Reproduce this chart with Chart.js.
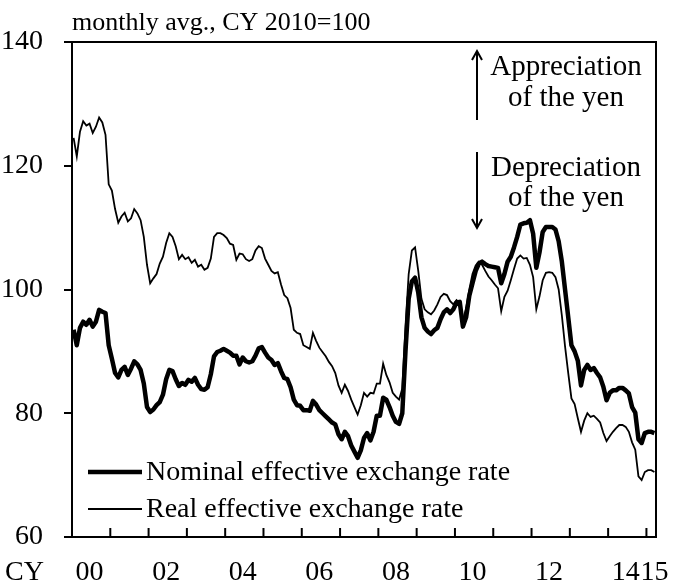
<!DOCTYPE html>
<html>
<head>
<meta charset="utf-8">
<script src="https://cdn.jsdelivr.net/npm/chart.js@4.4.1/dist/chart.umd.min.js"></script>
<style>
  body { margin: 0; background: #fff; }
  canvas { display: block; }
</style>
</head>
<body>
<canvas id="myChart" width="690" height="585"></canvas>
<script>
// monthly, Jan 2000 - Mar 2015 (CY 2010 = 100), one row per year
let nominal = [
  93.5, 91.0, 93.8, 94.8, 94.3, 95.1, 94.0, 94.8, 96.7, 96.4, 96.2, 91.0,
  88.8, 86.5, 85.8, 87.0, 87.5, 86.2, 87.2, 88.4, 87.9, 87.0, 84.8, 81.0,
  80.2, 80.6, 81.3, 81.8, 83.0, 85.5, 87.0, 86.8, 85.5, 84.4, 84.9, 84.6,
  85.4, 85.1, 85.7, 84.6, 83.9, 83.8, 84.2, 86.3, 89.2, 89.9, 90.1, 90.4,
  90.1, 89.8, 89.3, 89.3, 87.9, 89.0, 88.4, 88.2, 88.4, 89.3, 90.5, 90.7,
  89.8, 89.0, 88.6, 87.8, 88.1, 86.8, 85.7, 85.5, 84.2, 82.2, 81.3, 81.2,
  80.5, 80.5, 80.4, 82.0, 81.4, 80.5, 80.0, 79.5, 79.0, 78.5, 78.2, 76.6,
  75.8, 77.0, 76.3, 74.8, 73.8, 72.8, 74.0, 76.0, 76.8, 75.6, 77.0, 79.6,
  79.6, 82.5, 82.2, 81.0, 79.6, 78.6, 78.3, 80.0, 90.0, 98.5, 101.3, 101.9,
  99.5, 95.5, 93.8, 93.2, 92.8, 93.4, 93.8, 95.2, 96.3, 96.8, 96.2, 96.8,
  97.9, 98.0, 94.0, 95.5, 99.0, 101.0, 103.0, 104.2, 104.5, 104.1, 103.8, 103.7,
  103.6, 103.5, 101.0, 102.5, 104.5, 105.3, 106.8, 108.5, 110.5, 110.7, 110.8, 111.2,
  109.0, 103.5, 106.0, 109.3, 110.1, 110.1, 110.1, 109.7, 107.8, 104.5, 100.0, 95.5,
  91.0, 90.0, 88.5, 84.5, 87.0, 87.8, 87.0, 87.3, 86.5, 85.8, 84.3, 82.1,
  83.3, 83.7, 83.7, 84.1, 84.1, 83.7, 83.2, 81.0, 80.1, 75.8, 75.2, 76.8,
  77.0, 77.0, 76.8
]

let real = [
  124.5, 121.5, 125.5, 127.2, 126.5, 126.8, 125.3, 126.3, 127.8, 127.0, 125.0, 117.0,
  116.0, 113.0, 110.8, 111.8, 112.4, 111.0, 111.5, 113.0, 112.3, 111.2, 108.5, 104.0,
  101.0, 101.8, 102.5, 104.2, 105.3, 107.5, 109.1, 108.5, 107.0, 104.9, 105.6, 104.9,
  105.2, 104.3, 104.8, 103.7, 104.0, 103.2, 103.5, 105.0, 108.5, 109.1, 109.1, 108.8,
  108.3, 107.4, 107.2, 104.8, 105.8, 105.7, 104.9, 104.6, 104.9, 106.3, 107.0, 106.7,
  105.0, 104.0, 103.0, 102.6, 102.8, 100.8, 99.1, 98.6, 97.0, 93.5, 93.0, 92.8,
  91.0, 90.7, 90.4, 93.0, 91.7, 90.6, 89.9, 89.2, 88.3, 87.6, 86.5, 84.5,
  83.3, 84.6, 83.6, 82.2, 81.0, 79.8, 81.3, 83.3, 82.7, 83.3, 83.2, 84.8,
  84.8, 88.0, 86.2, 85.0, 83.3, 82.7, 82.2, 84.0, 94.0, 102.5, 106.3, 106.8,
  103.0, 98.5, 96.8, 96.3, 96.0, 96.6, 97.6, 98.8, 99.3, 99.1, 98.1, 97.6,
  98.3, 97.8, 95.0, 97.0, 100.0, 102.5, 103.9, 104.5, 104.0, 103.0, 102.1, 101.5,
  100.8, 100.2, 96.5, 98.8, 99.8, 101.5, 103.3, 105.0, 105.5, 105.0, 105.1, 104.0,
  102.0, 96.8, 98.9, 101.5, 102.7, 102.8, 102.7, 102.0, 100.0, 95.8, 90.8, 86.5,
  82.4, 81.5, 79.2, 77.0, 78.8, 80.0, 79.4, 79.6, 79.1, 78.5, 76.8, 75.5,
  76.3, 77.0, 77.6, 78.1, 78.1, 77.8, 77.0, 75.3, 74.1, 69.8, 69.2, 70.5,
  70.8, 70.8, 70.5
]

let seriesNames = ["Nominal effective exchange rate", "Real effective exchange rate"]
let firstYear = 2000
let labelYears = [2000, 2002, 2004, 2006, 2008, 2010, 2012, 2014, 2015]
let yTicks = [60, 80, 100, 120, 140]
let titleText = "monthly avg., CY 2010=100"
let upText = ["Appreciation", "of the yen"]
let downText = ["Depreciation", "of the yen"]

let serif = "'Liberation Serif', 'Times New Roman', serif"

// month labels 2000-01 ... 2015-03
let months = []
for (let i = 0; i < nominal.length; i++) {
    let y = firstYear + Math.floor(i / 12)
    let m = (i % 12) + 1
    months.push(y + '-' + (m < 10 ? '0' : '') + m)
}

function yearLabelAt(index) {
    for (let y of labelYears) {
        let at = Math.min((y - firstYear) * 12 + 5, months.length - 1)
        if (at === index) return String(y).slice(2)
    }
    return ''
}

function drawArrow(c, x, y1, y2) {
    // y1 = tail, y2 = tip
    let dir = y2 < y1 ? 1 : -1
    c.beginPath()
    c.moveTo(x, y1)
    c.lineTo(x, y2)
    c.moveTo(x - 5, y2 + dir * 9)
    c.lineTo(x, y2)
    c.lineTo(x + 5, y2 + dir * 9)
    c.stroke()
}

let extras = {
    id: 'extras',
    afterDraw(chart) {
        let c = chart.ctx
        let area = chart.chartArea
        let xs = chart.scales.x
        c.save()
        c.strokeStyle = '#000'
        c.fillStyle = '#000'

        // frame
        c.lineWidth = 2
        c.strokeRect(area.left, area.top, area.right - area.left, area.bottom - area.top)

        // year tick marks, pointing inward
        for (let k = 12; k < months.length; k += 12) {
            let px = (xs.getPixelForValue(k - 1) + xs.getPixelForValue(k)) / 2
            c.beginPath()
            c.moveTo(px, area.bottom)
            c.lineTo(px, area.bottom - 9)
            c.stroke()
        }

        // title and CY
        c.font = "26px " + serif
        c.textAlign = 'left'
        c.textBaseline = 'alphabetic'
        c.fillText(titleText, area.left, 30)
        c.font = "28px " + serif
        c.fillText("CY", 5, 580)

        // legend inside the plot
        let lx = 88, ly = [472, 509]
        chart.data.datasets.forEach((ds, i) => {
            c.lineWidth = ds.borderWidth
            c.beginPath()
            c.moveTo(lx, ly[i])
            c.lineTo(lx + 54, ly[i])
            c.stroke()
            c.font = "28px " + serif
            c.textBaseline = 'middle'
            c.fillText(ds.label, lx + 58, ly[i] + 1)
        })

        // appreciation / depreciation notes
        c.lineWidth = 2
        drawArrow(c, 477, 120, 51)
        drawArrow(c, 477, 152, 228)
        c.font = "29px " + serif
        c.textAlign = 'center'
        c.textBaseline = 'alphabetic'
        c.fillText(upText[0], 566, 75)
        c.fillText(upText[1], 566, 106)
        c.fillText(downText[0], 566, 176)
        c.fillText(downText[1], 566, 206)
        c.restore()
    }
}

let ctx = document.getElementById("myChart").getContext("2d")

let config = {
    type: "line",
    data: {
        labels: months,
        datasets: [{
            label: seriesNames[0],
            data: nominal,
            borderColor: "#000",
            borderWidth: 4.5,
            borderJoinStyle: "round",
            pointRadius: 0,
            tension: 0,
        }, {
            label: seriesNames[1],
            data: real,
            borderColor: "#000",
            borderWidth: 1.8,
            pointRadius: 0,
            tension: 0,
        }],
    },
    options: {
        responsive: false,
        animation: false,
        layout: { padding: { left: 0, right: 34, top: 42, bottom: 0 } },
        plugins: {
            legend: { display: false },
            tooltip: { enabled: false },
        },
        scales: {
            x: {
                offset: true,
                grid: { display: false, drawTicks: false },
                border: { display: false },
                ticks: {
                    autoSkip: false,
                    maxRotation: 0,
                    minRotation: 0,
                    padding: 19,
                    color: "#000",
                    font: { family: serif, size: 28 },
                    callback: function (value, index) {
                        return yearLabelAt(index)
                    },
                },
                afterFit: (scale) => { scale.height = 48 },
            },
            y: {
                min: 60,
                max: 140,
                afterBuildTicks: (scale) => { scale.ticks = yTicks.map(v => ({ value: v })) },
                grid: { drawOnChartArea: false, tickLength: 8, color: "#000", lineWidth: 2 },
                border: { display: false },
                ticks: {
                    padding: 21,
                    color: "#000",
                    font: { family: serif, size: 28 },
                },
                afterFit: (scale) => { scale.width = 72 },
            },
        },
    },
    plugins: [extras],
}

let myChart = new Chart(ctx, config)
</script>
</body>
</html>
